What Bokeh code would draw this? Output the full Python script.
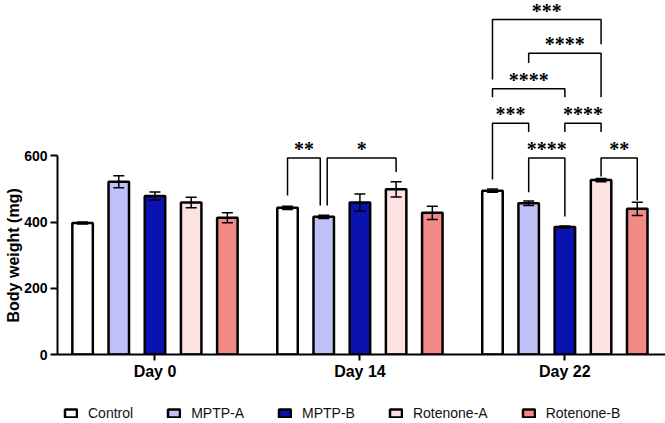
from bokeh.plotting import figure
from bokeh.layouts import column
from bokeh.models import (Range1d, ColumnDataSource, Whisker, TeeHead, Legend,
                          LegendItem, Title, FixedTicker)
from bokeh.embed import file_html
from bokeh.resources import INLINE

# ---------------- data ----------------
days = ["Day 0", "Day 14", "Day 22"]
groups = ["Control", "MPTP-A", "MPTP-B", "Rotenone-A", "Rotenone-B"]
colors = ["#FFFFFF", "#C0C0F8", "#0A12B0", "#FDE2E2", "#F28A85"]

control = [397, 443, 495]
mptp_a = [522, 416, 457]
mptp_b = [479, 459, 385]
rot_a = [459, 499, 527]
rot_b = [413, 428, 440]

control_sem = [3, 5, 5]
mptp_a_sem = [18, 5, 7]
mptp_b_sem = [12, 26, 3]
rot_a_sem = [16, 23, 5]
rot_b_sem = [15, 20, 20]

y_ticks = [0, 200, 400, 600]

# significance brackets (day index, bar indices, label, heights in mg)
sig_day = [1, 1, 2, 2, 2, 2, 2, 2, 2]
sig_i = [0, 1, 0, 1, 0, 0, 2, 1, 3]
sig_j = [1, 3, 3, 3, 2, 1, 3, 2, 4]
sig_label = ["**", "*", "***", "****", "****", "***", "****", "****", "**"]
sig_top = [594, 594, 1012, 910, 803, 699, 699, 594, 594]
sig_left_end = [480, 450, 831, 881, 777, 529, 672, 490, 538]
sig_right_end = [450, 551, 937, 777, 777, 672, 672, 417, 465]

means = [control, mptp_a, mptp_b, rot_a, rot_b]
sems = [control_sem, mptp_a_sem, mptp_b_sem, rot_a_sem, rot_b_sem]

# ---------------- layout constants ----------------
OFF = 0.1766      # spacing between bars within a group
BAR_W = 0.10
SHIFT = 0.017     # leg nudge where two brackets meet on one bar
FONT = "Liberation Sans"
BAR_STYLE = dict(line_color="black", line_width=2.5)

p = figure(frame_width=608, frame_height=354, output_backend="svg",
           toolbar_location=None,
           x_range=Range1d(-0.4756, 2.491), y_range=Range1d(0, 1069.5),
           min_border_left=57, min_border_right=0, min_border_top=0,
           min_border_bottom=30, background_fill_color="white",
           border_fill_color="white")
p.outline_line_color = None
p.grid.visible = False

sources = []
for k, (g, c) in enumerate(zip(groups, colors)):
    xs = [d + (k - 2) * OFF for d in range(len(days))]
    src = ColumnDataSource(dict(
        x=xs, top=means[k],
        upper=[m + s for m, s in zip(means[k], sems[k])],
        lower=[m - s for m, s in zip(means[k], sems[k])]))
    sources.append(src)
    p.vbar(x="x", top="top", width=BAR_W, source=src, fill_color=c, **BAR_STYLE)
    w = Whisker(source=src, base="x", upper="upper", lower="lower",
                line_color="black", line_width=1.5,
                upper_head=TeeHead(size=11, line_width=1.5, line_color="black"),
                lower_head=TeeHead(size=11, line_width=1.5, line_color="black"))
    w.level = "annotation"
    p.add_layout(w)

# brackets
bx, by, tx, ty, tt = [], [], [], [], []
for n in range(len(sig_day)):
    d, i, j = sig_day[n], sig_i[n], sig_j[n]
    xl = d + (i - 2) * OFF
    xr = d + (j - 2) * OFF
    for m in range(len(sig_day)):
        if m != n and sig_day[m] == d and sig_top[m] == sig_top[n]:
            if sig_j[m] == i:
                xl += SHIFT
            if sig_i[m] == j:
                xr -= SHIFT
    bx.append([xl, xl, xr, xr])
    by.append([sig_left_end[n], sig_top[n], sig_top[n], sig_right_end[n]])
    tx.append((xl + xr) / 2)
    ty.append(sig_top[n])
    tt.append(sig_label[n])

p.multi_line(xs=bx, ys=by, line_color="black", line_width=1.5)
p.text(x=tx, y=ty, text=tt, text_align="center", text_baseline="alphabetic",
       text_font=FONT, text_font_size="20px", text_font_style="bold",
       text_color="black", y_offset=-9)

# axes
p.xaxis.ticker = FixedTicker(ticks=list(range(len(days))))
p.xaxis.major_label_overrides = {i: d for i, d in enumerate(days)}
p.xaxis.major_label_text_font = FONT
p.xaxis.major_label_text_font_size = "16px"
p.xaxis.major_label_text_font_style = "bold"
p.xaxis.major_label_text_color = "black"
p.xaxis.major_label_standoff = 2
p.xaxis.axis_line_width = 2
p.xaxis.major_tick_line_width = 2
p.xaxis.major_tick_out = 6
p.xaxis.major_tick_in = 0
p.xaxis.minor_tick_line_color = None

p.yaxis.ticker = FixedTicker(ticks=y_ticks)
p.yaxis.bounds = (0, 600)
p.yaxis.major_label_text_font = FONT
p.yaxis.major_label_text_font_size = "14px"
p.yaxis.major_label_text_font_style = "bold"
p.yaxis.major_label_text_color = "black"
p.yaxis.major_label_standoff = 3
p.yaxis.axis_line_width = 2
p.yaxis.major_tick_line_width = 2
p.yaxis.major_tick_out = 7
p.yaxis.major_tick_in = 0
p.yaxis.minor_tick_line_color = None

p.add_layout(Title(text="Body weight (mg)", align="left", offset=32,
                   text_font=FONT, text_font_size="16px",
                   text_font_style="bold", text_color="black",
                   standoff=0), "left")

# ---------------- legend strip (separate small figure) ----------------
# the same bar sources are reused by hidden renderers; only the legend shows
lf = figure(frame_width=665, frame_height=39, output_backend="svg",
            toolbar_location=None, x_range=Range1d(100, 101),
            y_range=Range1d(0, 1),
            x_axis_location=None, y_axis_location=None,
            min_border=0, background_fill_color="white",
            border_fill_color="white")
lf.outline_line_color = None
lf.grid.visible = False
items = []
for g, c, src in zip(groups, colors, sources):
    r = lf.vbar(x="x", top="top", width=BAR_W, source=src, fill_color=c,
                **BAR_STYLE)
    r.visible = False
    items.append(LegendItem(label=g, renderers=[r]))
legend = Legend(items=items, orientation="horizontal", location=(63, 2),
                label_text_font=FONT, label_text_font_size="14px",
                label_text_color="#111111", click_policy="none",
                glyph_width=15, glyph_height=10, label_standoff=10,
                spacing=33, padding=0, margin=0, label_height=16,
                border_line_color=None, background_fill_alpha=0)
lf.add_layout(legend)

layout = column(p, lf, spacing=0)
open("out.html", "w").write(file_html(layout, INLINE))
